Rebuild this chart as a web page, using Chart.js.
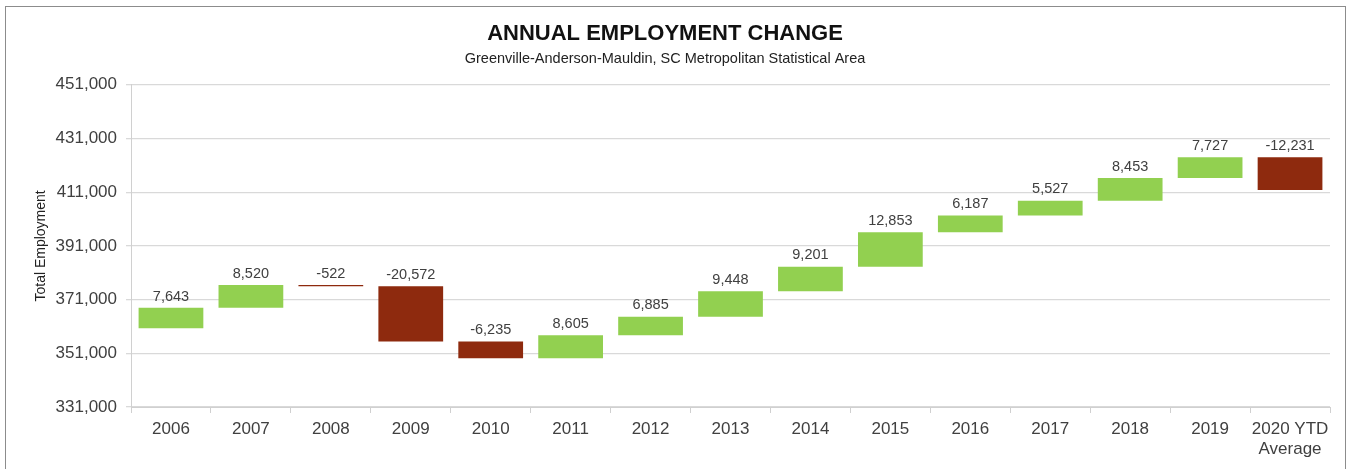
<!DOCTYPE html>
<html>
<head>
<meta charset="utf-8">
<title>Annual Employment Change</title>
<script src="https://cdn.jsdelivr.net/npm/chart.js@4.4.1/dist/chart.umd.min.js"></script>
<style>
  html, body { margin: 0; padding: 0; background: #fff; }
  #wrap { position: relative; width: 1350px; height: 469px; overflow: hidden; }
  #frame { position: absolute; left: 5px; top: 6px; width: 1339px; height: 480px;
           border: 1px solid #8c8c8c; pointer-events: none; }
</style>
</head>
<body>
<div id="wrap">
  <canvas id="employmentChart" width="1350" height="469"></canvas>
  <div id="frame"></div>
</div>
<script>
// data
var years = ["2006", "2007", "2008", "2009", "2010", "2011", "2012", "2013",
             "2014", "2015", "2016", "2017", "2018", "2019", ["2020 YTD", "Average"]];
var changes = [7643, 8520, -522, -20572, -6235, 8605, 6885, 9448,
               9201, 12853, 6187, 5527, 8453, 7727, -12231];
var startLevel = 360300; // employment level before 2006 (estimated)
var yTicks = [331000, 351000, 371000, 391000, 411000, 431000, 451000];

var GREEN = "#92d050";
var RED = "#8e2a0e";

// floating bars: [from, to]
var floating = [];
var level = startLevel;
for (var i = 0; i < changes.length; i++) {
  floating.push([level, level + changes[i]]);
  level += changes[i];
}

var fmt = function (v) { return Number(v).toLocaleString("en-US"); };

// draws the change value above every bar
var valueLabels = {
  id: "valueLabels",
  afterDatasetsDraw: function (chart) {
    var ctx = chart.ctx;
    var meta = chart.getDatasetMeta(0);
    var y = chart.scales.y;
    ctx.save();
    ctx.font = "14.5px 'Liberation Sans', Arial, sans-serif";
    ctx.fillStyle = "#404040";
    ctx.textAlign = "center";
    ctx.textBaseline = "bottom";
    meta.data.forEach(function (bar, idx) {
      var top = Math.max(floating[idx][0], floating[idx][1]);
      ctx.fillText(fmt(changes[idx]), bar.x, y.getPixelForValue(top) - 4);
    });
    ctx.restore();
  }
};

var ctx = document.getElementById("employmentChart").getContext("2d");
var myChart = new Chart(ctx, {
  type: "bar",
  data: {
    labels: years,
    datasets: [
      {
        label: "Annual change",
        data: floating,
        backgroundColor: changes.map(function (c) { return c >= 0 ? GREEN : RED; }),
        borderWidth: 0,
        borderSkipped: false,
        barPercentage: 0.81,
        categoryPercentage: 1.0,
      },
    ],
  },
  options: {
    responsive: false,
    animation: false,
    devicePixelRatio: 1,
    layout: { padding: { left: 0, right: 20, top: 0, bottom: 0 } },
    plugins: {
      legend: { display: false },
      tooltip: { enabled: false },
      title: {
        display: true,
        text: "ANNUAL EMPLOYMENT CHANGE",
        color: "#111",
        font: { family: "'Liberation Sans', Arial, sans-serif", size: 22, weight: "bold" },
        padding: { top: 21, bottom: 3 },
      },
      subtitle: {
        display: true,
        text: "Greenville-Anderson-Mauldin, SC Metropolitan Statistical Area",
        color: "#222",
        font: { family: "'Liberation Sans', Arial, sans-serif", size: 14.5 },
        padding: { top: 0, bottom: 17 },
      },
    },
    scales: {
      x: {
        afterFit: function (scale) { scale.height = 62; },
        grid: { drawOnChartArea: false, drawTicks: true, tickLength: 6, color: "#d0d0d0" },
        border: { color: "#d0d0d0" },
        ticks: {
          color: "#404040",
          padding: 6,
          maxRotation: 0,
          autoSkip: false,
          font: { family: "'Liberation Sans', Arial, sans-serif", size: 17 },
        },
      },
      y: {
        min: 331000,
        max: 451000,
        afterFit: function (scale) { scale.width = 131; },
        afterBuildTicks: function (scale) {
          scale.ticks = yTicks.map(function (v) { return { value: v }; });
        },
        grid: { color: "#d9d9d9", lineWidth: 1.3, tickLength: 5 },
        border: { color: "#d0d0d0" },
        ticks: {
          color: "#404040",
          padding: 9,
          font: { family: "'Liberation Sans', Arial, sans-serif", size: 17 },
          callback: function (value) { return fmt(value); },
        },
        title: {
          display: true,
          text: "Total Employment",
          color: "#222",
          padding: { top: 33, bottom: 0 },
          font: { family: "'Liberation Sans', Arial, sans-serif", size: 14 },
        },
      },
    },
  },
  plugins: [valueLabels],
});
</script>
</body>
</html>
